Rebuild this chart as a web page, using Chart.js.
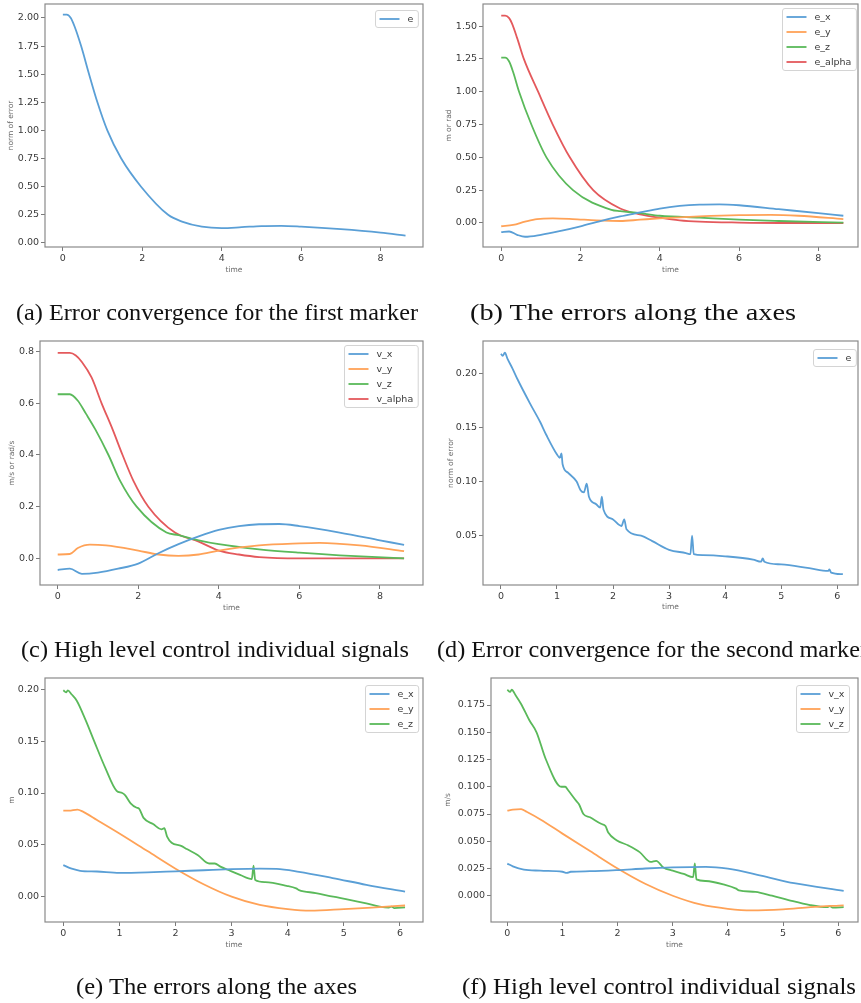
<!DOCTYPE html>
<html>
<head>
<meta charset="utf-8">
<script src="https://cdn.jsdelivr.net/npm/chart.js@4.4.1/dist/chart.umd.min.js"></script>
<style>
  body { margin: 0; background: #fff; width: 861px; height: 1003px; overflow: hidden; position: relative; }
  canvas { position: absolute; }
  #captions { position: absolute; left: 0; top: 0; }
  #captions text { font-family: "Liberation Serif", "DejaVu Serif", serif; font-size: 24px; fill: #111; }
</style>
</head>
<body>
<canvas id="chartA"></canvas>
<canvas id="chartB"></canvas>
<canvas id="chartC"></canvas>
<canvas id="chartD"></canvas>
<canvas id="chartE"></canvas>
<canvas id="chartF"></canvas>
<svg id="captions" width="861" height="1003">
  <text x="16" y="320" textLength="402" lengthAdjust="spacingAndGlyphs">(a) Error convergence for the first marker</text>
  <text x="470" y="320" textLength="326" lengthAdjust="spacingAndGlyphs">(b) The errors along the axes</text>
  <text x="21" y="657" textLength="388" lengthAdjust="spacingAndGlyphs">(c) High level control individual signals</text>
  <text x="437" y="657" textLength="431" lengthAdjust="spacingAndGlyphs">(d) Error convergence for the second marker</text>
  <text x="76" y="994" textLength="281" lengthAdjust="spacingAndGlyphs">(e) The errors along the axes</text>
  <text x="462" y="994" textLength="394" lengthAdjust="spacingAndGlyphs">(f) High level control individual signals</text>
</svg>
<script>
// ---- data ----

// (a) error norm, first marker
const aTime = [0, 0.1, 0.2, 0.3, 0.46, 0.66, 0.87, 1.12, 1.47, 1.97, 2.65, 3.0, 3.5, 4.0, 4.5, 5.0, 5.5, 6.0, 7.0, 8.0, 8.63];
const aErr  = [2.03, 2.03, 2.0, 1.92, 1.75, 1.5, 1.25, 1.0, 0.75, 0.5, 0.25, 0.19, 0.145, 0.132, 0.14, 0.15, 0.152, 0.145, 0.123, 0.092, 0.065];

// (b) errors along the axes
const bTimeX = [0, 0.2, 0.4, 0.6, 1, 1.5, 2, 2.5, 3, 3.5, 4, 4.5, 5, 5.5, 6, 7, 8, 8.63];
const bEx    = [-0.07, -0.065, -0.09, -0.105, -0.09, -0.06, -0.025, 0.015, 0.05, 0.08, 0.11, 0.13, 0.14, 0.142, 0.135, 0.105, 0.075, 0.055];
const bTimeY = [0, 0.3, 0.6, 0.9, 1.3, 1.8, 2.4, 3, 3.5, 4, 5, 6, 6.8, 7.5, 8.63];
const bEy    = [-0.025, -0.015, 0.01, 0.03, 0.035, 0.03, 0.02, 0.015, 0.025, 0.035, 0.05, 0.06, 0.062, 0.055, 0.03];
const bTimeZ = [0, 0.1, 0.2, 0.3, 0.45, 0.76, 1.14, 1.81, 2.78, 3.0, 3.5, 4.0, 5.0, 6.0, 7.0, 8.63];
const bEz    = [1.26, 1.26, 1.23, 1.15, 1.0, 0.75, 0.5, 0.25, 0.1, 0.09, 0.075, 0.055, 0.04, 0.025, 0.015, 0.002];
const bTimeA = [0, 0.1, 0.2, 0.27, 0.4, 0.57, 0.93, 1.3, 1.73, 2.32, 3.0, 3.5, 4.0, 4.5, 5.0, 6.0, 7.0, 8.63];
const bEalpha = [1.58, 1.58, 1.56, 1.52, 1.41, 1.25, 1.0, 0.75, 0.5, 0.25, 0.11, 0.065, 0.04, 0.02, 0.01, 0.003, 0.0, 0.0];

// (c) high level control signals
const cTimeX = [0, 0.3, 0.6, 1, 1.5, 2, 2.5, 3, 3.5, 4, 4.5, 5, 5.5, 6, 7, 8, 8.6];
const cVx    = [-0.045, -0.04, -0.06, -0.055, -0.04, -0.02, 0.02, 0.055, 0.085, 0.11, 0.125, 0.132, 0.133, 0.125, 0.1, 0.07, 0.052];
const cTimeY = [0, 0.3, 0.5, 0.8, 1.2, 2, 2.5, 3, 3.5, 4, 5, 6, 6.5, 7.5, 8.6];
const cVy    = [0.015, 0.017, 0.04, 0.053, 0.05, 0.03, 0.015, 0.01, 0.015, 0.03, 0.05, 0.058, 0.06, 0.05, 0.028];
const cTimeZ = [0, 0.3, 0.5, 0.7, 0.93, 1.26, 1.55, 1.96, 2.7, 3.0, 3.5, 4, 5, 6, 7, 8.6];
const cVz    = [0.635, 0.635, 0.61, 0.56, 0.5, 0.4, 0.3, 0.2, 0.1, 0.09, 0.07, 0.055, 0.035, 0.022, 0.012, 0.0];
const cTimeA = [0, 0.3, 0.45, 0.6, 0.84, 1.09, 1.36, 1.61, 1.88, 2.25, 2.91, 3.5, 4, 4.5, 5, 6, 7, 8.6];
const cValpha = [0.795, 0.795, 0.785, 0.76, 0.7, 0.6, 0.5, 0.4, 0.3, 0.2, 0.1, 0.065, 0.03, 0.015, 0.005, 0.0, 0.0, 0.0];

// (d) error norm, second marker
const dTime = [0, 0.03, 0.07, 0.12, 0.2, 0.3, 0.52, 0.7, 0.81, 1.0, 1.05, 1.08, 1.1, 1.2, 1.35, 1.42, 1.48, 1.53, 1.57, 1.7, 1.77, 1.8, 1.83, 2.0, 2.15, 2.2, 2.24, 2.5, 2.7, 3.0, 3.3, 3.38, 3.41, 3.44, 3.6, 4.0, 4.5, 4.64, 4.67, 4.7, 5.0, 5.5, 5.84, 5.86, 5.89, 6.1];
const dErr  = [0.218, 0.216, 0.219, 0.213, 0.205, 0.194, 0.172, 0.155, 0.143, 0.125, 0.122, 0.126, 0.116, 0.108, 0.1, 0.092, 0.09, 0.098, 0.086, 0.079, 0.076, 0.086, 0.074, 0.065, 0.059, 0.065, 0.056, 0.05, 0.045, 0.037, 0.034, 0.033, 0.05, 0.033, 0.032, 0.031, 0.028, 0.026, 0.029, 0.026, 0.0235, 0.02, 0.0175, 0.019, 0.016, 0.0145];

// (e) errors along the axes, second marker
const eTimeX = [0, 0.15, 0.3, 0.6, 1.0, 1.5, 2.0, 2.5, 3.0, 3.5, 3.8, 4.2, 4.8, 5.4, 6.09];
const eEx    = [0.0305, 0.027, 0.025, 0.0243, 0.023, 0.0235, 0.0245, 0.0255, 0.0265, 0.027, 0.0268, 0.024, 0.018, 0.0115, 0.0048];
const eTimeY = [0, 0.1, 0.25, 0.35, 0.6, 1.0, 1.5, 2.0, 2.5, 3.0, 3.5, 4.0, 4.4, 5.0, 5.5, 6.09];
const eEy    = [0.083, 0.083, 0.084, 0.082, 0.074, 0.061, 0.044, 0.027, 0.012, 0.0, -0.008, -0.012, -0.0135, -0.012, -0.0105, -0.0085];
const eTimeZ = [0, 0.05, 0.08, 0.15, 0.24, 0.4, 0.55, 0.75, 0.95, 1.05, 1.1, 1.2, 1.3, 1.35, 1.43, 1.6, 1.75, 1.8, 1.85, 1.93, 2.1, 2.2, 2.4, 2.6, 2.7, 2.8, 2.97, 3.15, 3.36, 3.39, 3.42, 3.6, 3.98, 4.15, 4.2, 4.5, 4.81, 5.1, 5.4, 5.64, 5.8, 5.85, 5.9, 6.09];
const eEz    = [0.199, 0.197, 0.199, 0.195, 0.189, 0.17, 0.15, 0.124, 0.102, 0.1, 0.098, 0.09, 0.086, 0.085, 0.076, 0.07, 0.065, 0.066, 0.058, 0.052, 0.049, 0.046, 0.04, 0.032, 0.032, 0.029, 0.025, 0.021, 0.017, 0.03, 0.016, 0.014, 0.0105, 0.008, 0.0064, 0.0035, 0.0, -0.003, -0.0065, -0.0096, -0.0105, -0.0095, -0.011, -0.0103];

// (f) high level control signals, second marker
const fTimeX = [0, 0.1, 0.3, 0.6, 1.0, 1.08, 1.15, 1.5, 2.0, 2.5, 3.0, 3.6, 4.0, 4.6, 5.2, 6.1];
const fVx    = [0.0295, 0.027, 0.024, 0.023, 0.022, 0.021, 0.022, 0.0225, 0.0235, 0.025, 0.026, 0.0265, 0.0248, 0.0185, 0.0115, 0.0045];
const fTimeY = [0, 0.1, 0.25, 0.35, 0.6, 1.0, 1.5, 2.0, 2.5, 3.0, 3.5, 4.0, 4.43, 5.0, 5.5, 6.1];
const fVy    = [0.078, 0.079, 0.0795, 0.077, 0.07, 0.057, 0.041, 0.025, 0.011, 0.0, -0.008, -0.012, -0.0135, -0.0125, -0.0105, -0.0088];
const fTimeZ = [0, 0.05, 0.08, 0.15, 0.25, 0.4, 0.53, 0.7, 0.98, 1.05, 1.1, 1.25, 1.3, 1.38, 1.5, 1.7, 1.78, 1.83, 1.98, 2.2, 2.4, 2.6, 2.7, 2.83, 3.0, 3.2, 3.37, 3.4, 3.43, 3.6, 3.95, 4.15, 4.2, 4.5, 4.8, 5.1, 5.49, 5.8, 5.85, 5.9, 6.1];
const fVz    = [0.189, 0.187, 0.189, 0.184, 0.176, 0.161, 0.15, 0.125, 0.1, 0.1, 0.097, 0.087, 0.084, 0.075, 0.072, 0.066, 0.064, 0.058, 0.051, 0.046, 0.04, 0.031, 0.032, 0.026, 0.023, 0.02, 0.017, 0.0297, 0.015, 0.0135, 0.01, 0.0065, 0.005, 0.0035, 0.0, -0.004, -0.0086, -0.0105, -0.0095, -0.011, -0.0105];

// tick labels
const ticksTimeLong  = [0, 2, 4, 6, 8];
const ticksTimeShort = [0, 1, 2, 3, 4, 5, 6];
const ticksA = [0, 0.25, 0.5, 0.75, 1.0, 1.25, 1.5, 1.75, 2.0];
const ticksB = [0, 0.25, 0.5, 0.75, 1.0, 1.25, 1.5];
const ticksC = [0, 0.2, 0.4, 0.6, 0.8];
const ticksD = [0.05, 0.10, 0.15, 0.20];
const ticksE = [0, 0.05, 0.10, 0.15, 0.20];
const ticksF = [0, 0.025, 0.05, 0.075, 0.1, 0.125, 0.15, 0.175];

// ---- drawing ----
const BLUE = '#5a9fd6', ORANGE = '#ffa257', GREEN = '#5ab95a', RED = '#e4595c';
const FONT = '"DejaVu Sans", sans-serif';

function pts(times, values) {
  return times.map((t, i) => ({ x: t, y: values[i] }));
}

// matplotlib style frame round the plot area
const framePlugin = {
  id: 'frame',
  afterDatasetsDraw(chart) {
    const { ctx, chartArea: a } = chart;
    ctx.save();
    ctx.strokeStyle = '#8a8a8a';
    ctx.lineWidth = 1.2;
    ctx.strokeRect(a.left, a.top, a.right - a.left, a.bottom - a.top);
    ctx.restore();
  }
};

// legend box in the upper right corner
const boxLegend = {
  id: 'boxLegend',
  afterDatasetsDraw(chart, args, opts) {
    const { ctx, chartArea } = chart;
    const sets = chart.data.datasets;
    ctx.save();
    ctx.font = '9.5px ' + FONT;
    const textW = Math.max(...sets.map(d => ctx.measureText(d.label).width));
    const w = 4 + 20 + 8 + textW + 5;
    const h = sets.length * 15 + 2;
    const x = Math.round(chartArea.right - opts.right - w) + 0.5;
    const y = Math.round(chartArea.top + opts.top) + 0.5;
    ctx.fillStyle = 'rgba(255,255,255,0.85)';
    ctx.strokeStyle = '#d4d4d4';
    ctx.lineWidth = 1;
    ctx.beginPath();
    ctx.roundRect(x, y, w, h, 2.5);
    ctx.fill();
    ctx.stroke();
    ctx.textBaseline = 'middle';
    sets.forEach((d, i) => {
      const cy = y + 8.5 + i * 15;
      ctx.strokeStyle = d.borderColor;
      ctx.lineWidth = 1.8;
      ctx.beginPath();
      ctx.moveTo(x + 4, cy);
      ctx.lineTo(x + 24, cy);
      ctx.stroke();
      ctx.fillStyle = '#3a3a3a';
      ctx.fillText(d.label, x + 32, cy + 0.5);
    });
    ctx.restore();
  }
};

function makePanel(id, p) {
  const canvas = document.getElementById(id);
  canvas.width = p.box.w;
  canvas.height = p.box.h;
  canvas.style.left = p.box.x + 'px';
  canvas.style.top = p.box.y + 'px';

  const tickGrid = { display: true, drawOnChartArea: false, drawTicks: true, tickLength: 4, color: '#7a7a7a', lineWidth: 1 };
  const tickFont = { family: FONT, size: 9.5 };

  return new Chart(canvas, {
    type: 'line',
    data: {
      datasets: p.series.map(s => ({
        label: s.label,
        data: pts(s.times, s.values),
        borderColor: s.color,
        backgroundColor: s.color,
        borderWidth: 1.8,
        pointRadius: 0,
        cubicInterpolationMode: 'monotone',
        fill: false
      }))
    },
    options: {
      responsive: false,
      animation: false,
      devicePixelRatio: 1,
      layout: {
        autoPadding: false,
        padding: { left: 0, bottom: 0, top: p.plot.t - p.box.y, right: p.box.x + p.box.w - p.plot.r }
      },
      plugins: {
        legend: { display: false },
        tooltip: { enabled: false },
        boxLegend: p.legend
      },
      scales: {
        x: {
          type: 'linear',
          min: p.xMin, max: p.xMax,
          grid: tickGrid,
          border: { display: false },
          afterBuildTicks: s => { s.ticks = p.xTicks.map(v => ({ value: v })); },
          afterFit: s => { s.height = p.box.y + p.box.h - p.plot.b; s.paddingLeft = 0; s.paddingRight = 0; },
          ticks: { font: tickFont, color: '#3a3a3a', padding: 2, maxRotation: 0, callback: v => String(v) },
          title: { display: true, text: 'time', font: { family: FONT, size: 7.5 }, color: '#6a6a6a', padding: { top: 0, bottom: 2 } }
        },
        y: {
          type: 'linear',
          min: p.yMin, max: p.yMax,
          grid: tickGrid,
          border: { display: false },
          afterBuildTicks: s => { s.ticks = p.yTicks.map(v => ({ value: v })); },
          afterFit: s => { s.width = p.plot.l - p.box.x; s.paddingTop = 0; s.paddingBottom = 0; },
          ticks: { font: tickFont, color: '#3a3a3a', padding: 2, callback: v => Number(v).toFixed(p.yDigits) },
          title: { display: true, text: p.yTitle, font: { family: FONT, size: 7.5 }, color: '#6a6a6a', padding: { top: p.yTitlePad, bottom: 0 } }
        }
      }
    },
    plugins: [framePlugin, boxLegend]
  });
}

makePanel('chartA', {
  box: { x: 0, y: 0, w: 430, h: 277 }, plot: { l: 45, t: 4, r: 423, b: 247 },
  xMin: -0.45, xMax: 9.07, yMin: -0.036, yMax: 2.124,
  xTicks: ticksTimeLong, yTicks: ticksA, yDigits: 2,
  yTitle: 'norm of error', yTitlePad: 6.5,
  legend: { right: 5, top: 6 },
  series: [{ label: 'e', times: aTime, values: aErr, color: BLUE }]
});

makePanel('chartB', {
  box: { x: 430, y: 0, w: 431, h: 277 }, plot: { l: 483, t: 4, r: 858, b: 247 },
  xMin: -0.46, xMax: 9.0, yMin: -0.183, yMax: 1.668,
  xTicks: ticksTimeLong, yTicks: ticksB, yDigits: 2,
  yTitle: 'm or rad', yTitlePad: 14.5,
  legend: { right: 2, top: 4 },
  series: [
    { label: 'e_x', times: bTimeX, values: bEx, color: BLUE },
    { label: 'e_y', times: bTimeY, values: bEy, color: ORANGE },
    { label: 'e_z', times: bTimeZ, values: bEz, color: GREEN },
    { label: 'e_alpha', times: bTimeA, values: bEalpha, color: RED }
  ]
});

makePanel('chartC', {
  box: { x: 0, y: 335, w: 430, h: 280 }, plot: { l: 40, t: 341, r: 423, b: 585 },
  xMin: -0.44, xMax: 9.07, yMin: -0.103, yMax: 0.841,
  xTicks: ticksTimeLong, yTicks: ticksC, yDigits: 1,
  yTitle: 'm/s or rad/s', yTitlePad: 7.5,
  legend: { right: 5, top: 4 },
  series: [
    { label: 'v_x', times: cTimeX, values: cVx, color: BLUE },
    { label: 'v_y', times: cTimeY, values: cVy, color: ORANGE },
    { label: 'v_z', times: cTimeZ, values: cVz, color: GREEN },
    { label: 'v_alpha', times: cTimeA, values: cValpha, color: RED }
  ]
});

makePanel('chartD', {
  box: { x: 430, y: 335, w: 431, h: 279 }, plot: { l: 483, t: 341, r: 858, b: 585 },
  xMin: -0.32, xMax: 6.37, yMin: 0.0045, yMax: 0.2298,
  xTicks: ticksTimeShort, yTicks: ticksD, yDigits: 2,
  yTitle: 'norm of error', yTitlePad: 16.5,
  legend: { right: 2, top: 8 },
  series: [{ label: 'e', times: dTime, values: dErr, color: BLUE }]
});

makePanel('chartE', {
  box: { x: 0, y: 670, w: 430, h: 282 }, plot: { l: 45, t: 678, r: 423, b: 922 },
  xMin: -0.326, xMax: 6.41, yMin: -0.0244, yMax: 0.2109,
  xTicks: ticksTimeShort, yTicks: ticksE, yDigits: 2,
  yTitle: 'm', yTitlePad: 7.5,
  legend: { right: 5, top: 7 },
  series: [
    { label: 'e_x', times: eTimeX, values: eEx, color: BLUE },
    { label: 'e_y', times: eTimeY, values: eEy, color: ORANGE },
    { label: 'e_z', times: eTimeZ, values: eEz, color: GREEN }
  ]
});

makePanel('chartF', {
  box: { x: 430, y: 670, w: 431, h: 282 }, plot: { l: 491, t: 678, r: 858, b: 922 },
  xMin: -0.296, xMax: 6.36, yMin: -0.0241, yMax: 0.1998,
  xTicks: ticksTimeShort, yTicks: ticksF, yDigits: 3,
  yTitle: 'm/s', yTitlePad: 13.5,
  legend: { right: 9, top: 7 },
  series: [
    { label: 'v_x', times: fTimeX, values: fVx, color: BLUE },
    { label: 'v_y', times: fTimeY, values: fVy, color: ORANGE },
    { label: 'v_z', times: fTimeZ, values: fVz, color: GREEN }
  ]
});
</script>
</body>
</html>
